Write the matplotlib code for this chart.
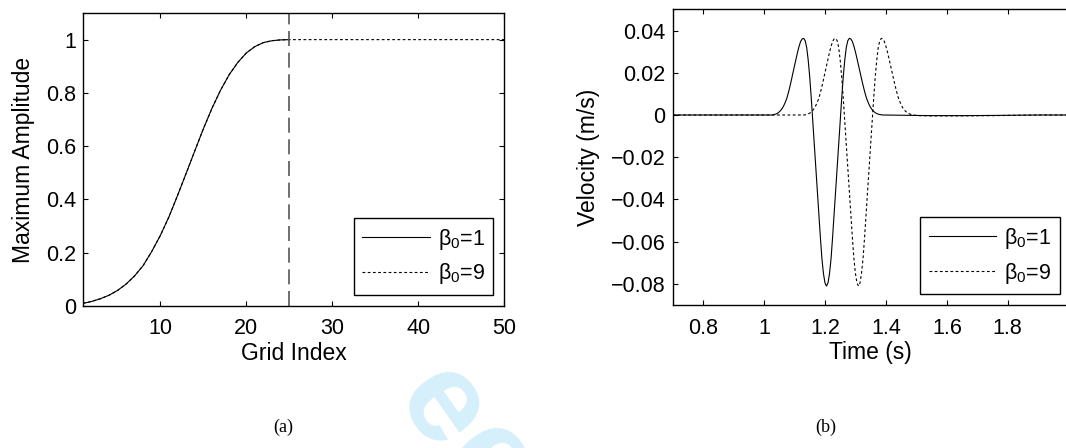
import matplotlib
matplotlib.use('Agg')
import matplotlib.pyplot as plt
import numpy as np

plt.rcParams['font.family'] = ['Liberation Sans', 'DejaVu Sans']
plt.rcParams['font.size'] = 15.5
plt.rcParams['mathtext.fontset'] = 'custom'
plt.rcParams['mathtext.rm'] = 'Liberation Sans'

# (a) maximum amplitude along the grid
grid_idx = list(range(1, 51))
amp_b1 = [0.010, 0.017, 0.027, 0.040, 0.058, 0.082, 0.113, 0.152, 0.205, 0.265,
          0.335, 0.415, 0.498, 0.582, 0.665, 0.742, 0.810, 0.868, 0.914, 0.950,
          0.974, 0.989, 0.996, 0.999, 1.000]
amp_b9 = amp_b1 + [1.000] * 25
boundary_idx = 25

# (b) velocity traces, sampled every 5 ms around each pulse
v_b1 = [0.0000, 0.0001, 0.0003, 0.0005, 0.0009, 0.0015, 0.0022, 0.0032, 0.0045,
        0.0061, 0.0080, 0.0106, 0.0135, 0.0167, 0.0200, 0.0233, 0.0265, 0.0297,
        0.0325, 0.0348, 0.0360, 0.0363, 0.0352, 0.0320, 0.0260, 0.0180, 0.0080,
        -0.0030, -0.0140, -0.0250, -0.0360, -0.0470, -0.0580, -0.0680, -0.0750,
        -0.0795, -0.0810, -0.0795, -0.0750, -0.0680, -0.0580, -0.0470, -0.0360,
        -0.0250, -0.0140, -0.0030, 0.0080, 0.0180, 0.0260, 0.0320, 0.0352, 0.0363,
        0.0360, 0.0348, 0.0326, 0.0299, 0.0268, 0.0236, 0.0204, 0.0172, 0.0141,
        0.0112, 0.0086, 0.0066, 0.0049, 0.0035, 0.0025, 0.0017, 0.0011, 0.0007,
        0.0004, 0.0002, 0.0001, 0.0000, 0.0000]
v_b9 = [0.0000, 0.0001, 0.0003, 0.0005, 0.0009, 0.0015, 0.0022, 0.0032, 0.0045,
        0.0061, 0.0080, 0.0106, 0.0135, 0.0167, 0.0200, 0.0233, 0.0265, 0.0297,
        0.0325, 0.0348, 0.0360, 0.0363, 0.0352, 0.0320, 0.0260, 0.0180, 0.0080,
        -0.0030, -0.0140, -0.0250, -0.0360, -0.0470, -0.0580, -0.0680, -0.0750,
        -0.0795, -0.0810, -0.0795, -0.0750, -0.0680, -0.0580, -0.0470, -0.0360,
        -0.0250, -0.0140, -0.0030, 0.0080, 0.0180, 0.0260, 0.0320, 0.0352, 0.0363,
        0.0360, 0.0348, 0.0326, 0.0299, 0.0268, 0.0236, 0.0204, 0.0172, 0.0141,
        0.0112, 0.0086, 0.0066, 0.0049, 0.0035, 0.0025, 0.0017, 0.0011, 0.0007,
        0.0004, 0.0001, 0.0000, -0.0001, -0.0002, -0.0003]
start_b1, start_b9, dt = 1.025, 1.130, 0.005
t_b1 = np.round(start_b1 + dt * np.arange(len(v_b1)), 3)
t_b9 = np.round(start_b9 + dt * np.arange(len(v_b9)), 3)
# flat stretches before and after the pulses
t_pre, t_post = [0.70], [1.55, 1.65, 1.75, 1.90, 2.00]
v_post_b1 = [-0.0003, -0.0003, -0.0002, 0.0, 0.0]
v_post_b9 = [-0.0004, -0.0004, -0.0003, 0.0, 0.0]

labels = [r'$\mathregular{\beta_0}$=1', r'$\mathregular{\beta_0}$=9']
dotted = (0, (2.5, 2.2))

fig = plt.figure(figsize=(10.66, 4.48), dpi=100)
ax1 = fig.add_axes([0.0779, 0.317, 0.395, 0.654])
ax2 = fig.add_axes([0.631, 0.319, 0.3715, 0.660])

for ax in (ax1, ax2):
    ax.tick_params(direction='in', length=3.5, width=0.8, top=True, right=True,
                   labelsize=15.5)
    ax.tick_params(axis='x', pad=9)
    ax.tick_params(axis='y', pad=5)
    for s in ax.spines.values():
        s.set_linewidth(1.0)
ax2.tick_params(right=False)

ax1.plot(grid_idx, amp_b9, color='k', lw=0.8, ls=dotted, label=labels[1])
ax1.plot(grid_idx[:len(amp_b1)], amp_b1, color='k', lw=0.8, label=labels[0])
ax1.axvline(boundary_idx, color='#555555', lw=1.2, ls=(0, (9, 4)))
ax1.set_xlim(1, 50)
ax1.set_ylim(0, 1.1)
ax1.set_xticks([10, 20, 30, 40, 50])
ax1.set_yticks([0, 0.2, 0.4, 0.6, 0.8, 1])
ax1.set_yticklabels(['0', '0.2', '0.4', '0.6', '0.8', '1'])
ax1.set_xlabel('Grid Index', fontsize=16.5, labelpad=2)
ax1.set_ylabel('Maximum Amplitude', fontsize=16.5, labelpad=8)
h = ax1.get_legend_handles_labels()[0]
leg_kw = dict(loc='lower right', borderaxespad=0, fancybox=False, edgecolor='k',
              framealpha=1, handlelength=3.15, handletextpad=0.35,
              labelspacing=0.45, borderpad=0.4, fontsize=15.5)
ax1.legend([h[1], h[0]], labels, bbox_to_anchor=(0.974, 0.0375),
           **leg_kw).get_frame().set_linewidth(1.0)

ax2.plot(t_pre + list(t_b1) + t_post, [0.0] + v_b1 + v_post_b1,
         color='k', lw=0.8, label=labels[0])
ax2.plot(t_pre + list(t_b9) + t_post, [0.0] + v_b9 + v_post_b9,
         color='k', lw=0.8, ls=dotted, label=labels[1])
ax2.set_xlim(0.7, 2.0)
ax2.set_ylim(-0.09, 0.05)
ax2.set_xticks([0.8, 1.0, 1.2, 1.4, 1.6, 1.8])
ax2.set_xticklabels(['0.8', '1', '1.2', '1.4', '1.6', '1.8'])
ax2.set_yticks([-0.08, -0.06, -0.04, -0.02, 0, 0.02, 0.04])
ax2.set_yticklabels(['\u22120.08', '\u22120.06', '\u22120.04', '\u22120.02', '0',
                     '0.02', '0.04'])
ax2.set_xlabel('Time (s)', fontsize=16.5, labelpad=2)
ax2.set_ylabel('Velocity (m/s)', fontsize=16.5, labelpad=8)
ax2.legend(bbox_to_anchor=(0.977, 0.037), **leg_kw).get_frame().set_linewidth(1.0)

fig.text(0.2655, 0.045, '(a)', family='Liberation Serif', fontsize=13,
         ha='center', va='center')
fig.text(0.775, 0.045, '(b)', family='Liberation Serif', fontsize=13,
         ha='center', va='center')

# light watermark glyphs near the bottom
for x, y in [(0.413, 0.085), (0.458, -0.04)]:
    fig.text(x, y, 'e', color='#d5effb', fontsize=92, fontweight='bold',
             rotation=-55, ha='center', va='center', zorder=-1)

fig.savefig('out.png', dpi=100)
